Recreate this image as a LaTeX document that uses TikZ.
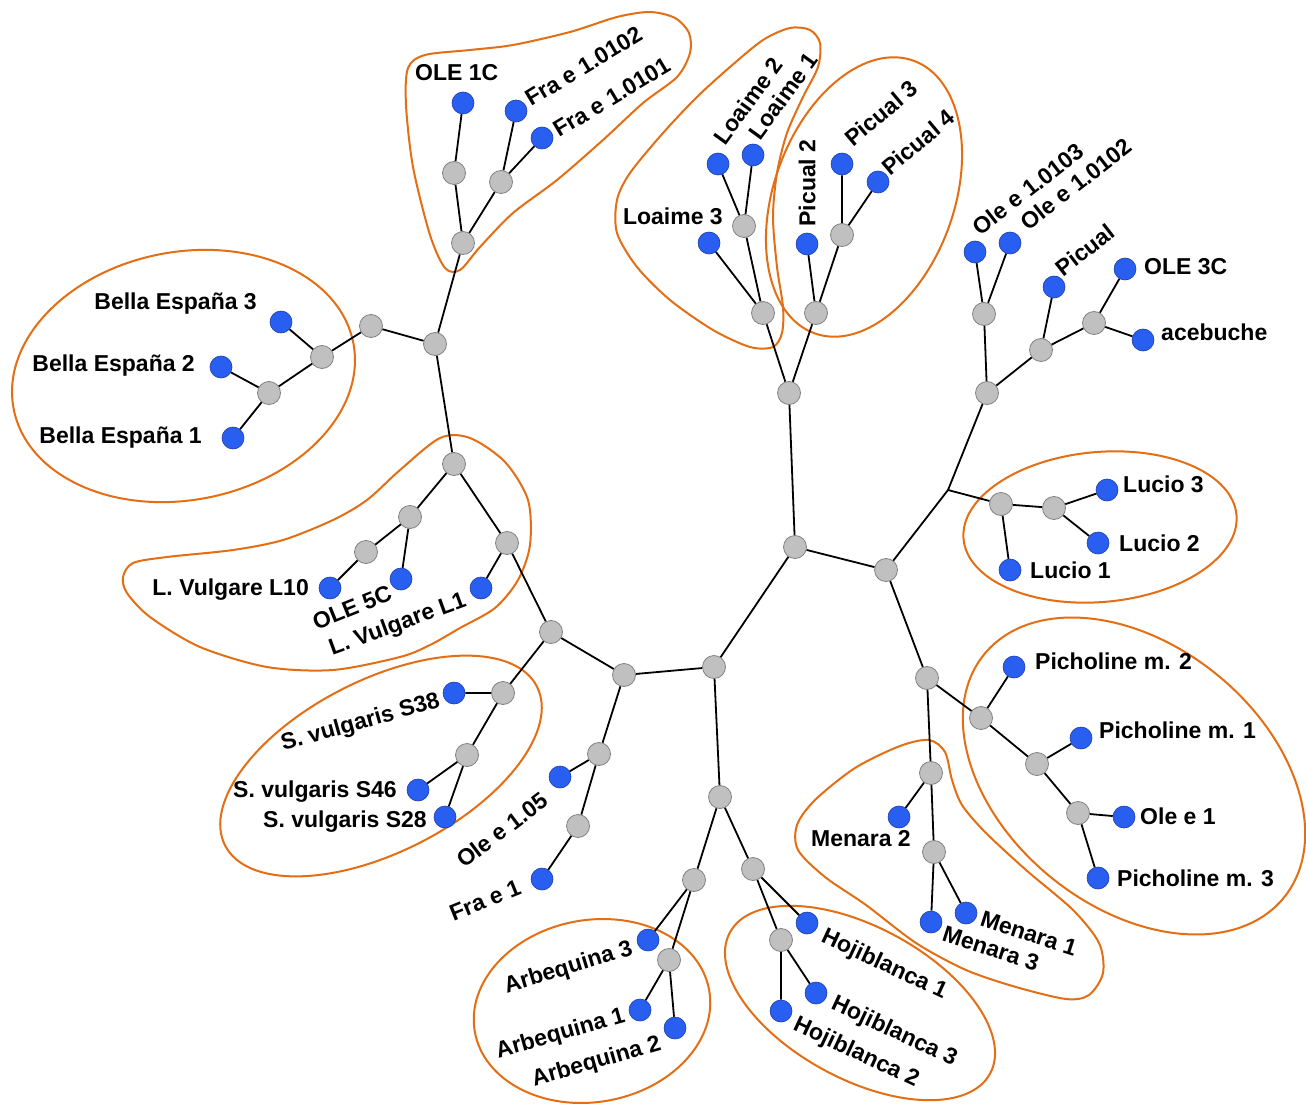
\documentclass[tikz,border=0pt]{standalone}
\usepackage{fontspec}
\setmainfont{Liberation Sans}
\definecolor{leafblue}{RGB}{40,95,240}
\definecolor{leafedge}{RGB}{30,60,170}
\definecolor{knotgray}{RGB}{192,192,192}
\definecolor{knotedge}{RGB}{130,130,130}
\definecolor{grouporange}{RGB}{228,110,20}
\begin{document}
\begin{tikzpicture}[x=1pt,y=-1pt,
 leaf/.style={circle,fill=leafblue,draw=leafedge,line width=0.6pt,minimum size=22pt,inner sep=0pt},
 knot/.style={circle,fill=knotgray,draw=knotedge,line width=0.8pt,minimum size=23pt,inner sep=0pt},
 lbl/.style={font=\fontsize{23}{27}\selectfont\bfseries,inner sep=0pt,text height=16.5pt,text depth=0pt},
 grp/.style={draw=grouporange,line width=2pt},
 branch/.style={draw=black,line width=1.8pt}]
\useasboundingbox[fill=white] (0,0) rectangle (1306,1107);

% ---------- group outlines ----------
\draw[grp,rotate around={11:(183.5,376)}] (183.5,376) ellipse [x radius=173, y radius=124];
\draw[grp,rotate around={5:(1100,527)}] (1100,527) ellipse [x radius=137, y radius=75];
\draw[grp,rotate around={27:(381,766)}] (381,766) ellipse [x radius=175, y radius=86];
\draw[grp,rotate around={70:(864,197)}] (864,197) ellipse [x radius=145, y radius=90];
\draw[grp,rotate around={10:(592,1011)}] (592,1011) ellipse [x radius=119, y radius=91];
\draw[grp,rotate around={-28.5:(860,1003)}] (860,1003) ellipse [x radius=148, y radius=76];
\draw[grp,rotate around={-39:(1134,776)}] (1134,776) ellipse [x radius=193, y radius=131];
\draw[grp] plot[smooth cycle] coordinates {(408,68) (425,55) (470,50) (513,45) (570,32) (617,17) (650,12) (675,18) (689,33) (690,53) (677,77) (643,103) (603,140) (557,180) (513,213) (480,247) (460,270) (445,268) (430,235) (413,167) (406,105)};
\draw[grp] plot[smooth cycle] coordinates {(617,200) (630,173) (663,133) (697,97) (730,67) (763,40) (790,28) (810,30) (820,43) (818,67) (803,97) (787,133) (777,173) (773,217) (777,267) (783,307) (782,333) (773,347) (750,347) (713,330) (670,300) (637,267) (617,233)};
\draw[grp] plot[smooth cycle] coordinates {(123,577) (133,563) (167,557) (233,550) (283,540) (333,520) (367,500) (400,470) (440,438) (470,438) (505,462) (528,500) (530,545) (518,580) (495,608) (460,628) (430,645) (400,657) (333,670) (267,667) (200,647) (150,617) (127,593)};
\draw[grp] plot[smooth cycle] coordinates {(929,740) (945,752) (952,780) (962,805) (985,832) (1026,870) (1073,910) (1099,943) (1103,973) (1089,995) (1066,999) (1016,987) (966,970) (916,943) (866,905) (825,877) (798,850) (797,825) (815,800) (855,768) (900,746)};

% ---------- internal nodes ----------
\node[knot] (g1) at (795,547) {};
\node[knot] (g2) at (714,667) {};
\node[knot] (g3) at (789,393) {};
\node[knot] (g4) at (886,570) {};
\node[knot] (g5) at (624,675) {};
\node[knot] (g6) at (720,797) {};
\node[knot] (g7) at (551,632) {};
\node[knot] (g8) at (599,754) {};
\node[knot] (g9) at (507,543) {};
\node[knot] (g10) at (503,693) {};
\node[knot] (g11) at (454,464) {};
\node[knot] (g12) at (435,344) {};
\node[knot] (g13) at (410,517) {};
\node[knot] (g14) at (366,552) {};
\node[knot] (g15) at (371,326) {};
\node[knot] (g16) at (463,243) {};
\node[knot] (g17) at (322,357) {};
\node[knot] (g18) at (269,393) {};
\node[knot] (g19) at (454,173) {};
\node[knot] (g20) at (501,182) {};
\node[knot] (g21) at (467,755) {};
\node[knot] (g22) at (578,826) {};
\node[knot] (g23) at (694,880) {};
\node[knot] (g24) at (753,869) {};
\node[knot] (g25) at (669,960) {};
\node[knot] (g26) at (781,940) {};
\node[knot] (g27) at (763,313) {};
\node[knot] (g28) at (816,313) {};
\node[knot] (g29) at (744,226) {};
\node[knot] (g30) at (842,235) {};
\coordinate (j1) at (948,490);
\node[knot] (g31) at (927,678) {};
\node[knot] (g32) at (987,393) {};
\node[knot] (g33) at (1001,504) {};
\node[knot] (g34) at (984,314) {};
\node[knot] (g35) at (1041,350) {};
\node[knot] (g36) at (1094,323) {};
\node[knot] (g37) at (1054,508) {};
\node[knot] (g38) at (981,718) {};
\node[knot] (g39) at (931,773) {};
\node[knot] (g40) at (1037,764) {};
\node[knot] (g41) at (1078,813) {};
\node[knot] (g42) at (934,852) {};

% ---------- leaves ----------
\node[leaf] (be3) at (281,322) {};
\node[leaf] (be2) at (221,367) {};
\node[leaf] (be1) at (233,438) {};
\node[leaf] (ole1c) at (463,103) {};
\node[leaf] (fra102) at (516,111) {};
\node[leaf] (fra101) at (542,138) {};
\node[leaf] (l10) at (330,588) {};
\node[leaf] (ole5c) at (401,579) {};
\node[leaf] (l1) at (481,588) {};
\node[leaf] (s38) at (454,693) {};
\node[leaf] (s46) at (418,790) {};
\node[leaf] (s28) at (445,817) {};
\node[leaf] (ole105) at (560,777) {};
\node[leaf] (frae1) at (542,879) {};
\node[leaf] (arb3) at (648,940) {};
\node[leaf] (arb1) at (640,1010) {};
\node[leaf] (arb2) at (675,1028) {};
\node[leaf] (hoj1) at (807,923) {};
\node[leaf] (hoj3) at (816,993) {};
\node[leaf] (hoj2) at (781,1011) {};
\node[leaf] (lo3) at (709,243) {};
\node[leaf] (lo2) at (718,164) {};
\node[leaf] (lo1) at (753,155) {};
\node[leaf] (pi2) at (807,244) {};
\node[leaf] (pi3) at (842,164) {};
\node[leaf] (pi4) at (878,182) {};
\node[leaf] (ole103) at (975,252) {};
\node[leaf] (ole102) at (1010,243) {};
\node[leaf] (picual) at (1054,287) {};
\node[leaf] (ole3c) at (1125,269) {};
\node[leaf] (acebuche) at (1143,340) {};
\node[leaf] (lu3) at (1107,490) {};
\node[leaf] (lu2) at (1098,543) {};
\node[leaf] (lu1) at (1010,570) {};
\node[leaf] (pm2) at (1014,667) {};
\node[leaf] (pm1) at (1081,738) {};
\node[leaf] (olee1) at (1124,817) {};
\node[leaf] (pm3) at (1098,878) {};
\node[leaf] (me2) at (899,817) {};
\node[leaf] (me3) at (931,922) {};
\node[leaf] (me1) at (966,913) {};

% ---------- branches ----------
\path[branch] (g1)--(g2) (g1)--(g3) (g1)--(g4)
 (g2)--(g5) (g2)--(g6)
 (g5)--(g7) (g5)--(g8)
 (g7)--(g9) (g7)--(g10)
 (g9)--(g11) (g9)--(l1)
 (g11)--(g12) (g11)--(g13)
 (g13)--(g14) (g13)--(ole5c) (g14)--(l10)
 (g12)--(g15) (g12)--(g16)
 (g15)--(g17) (g17)--(be3) (g17)--(g18) (g18)--(be2) (g18)--(be1)
 (g16)--(g19) (g16)--(g20) (g19)--(ole1c) (g20)--(fra102) (g20)--(fra101)
 (g10)--(s38) (g10)--(g21) (g21)--(s46) (g21)--(s28)
 (g8)--(ole105) (g8)--(g22) (g22)--(frae1)
 (g6)--(g23) (g6)--(g24)
 (g23)--(arb3) (g23)--(g25) (g25)--(arb1) (g25)--(arb2)
 (g24)--(hoj1) (g24)--(g26) (g26)--(hoj3) (g26)--(hoj2)
 (g3)--(g27) (g3)--(g28)
 (g27)--(lo3) (g27)--(g29) (g29)--(lo2) (g29)--(lo1)
 (g28)--(pi2) (g28)--(g30) (g30)--(pi3) (g30)--(pi4)
 (g4)--(j1) (g4)--(g31)
 (j1)--(g32) (j1)--(g33)
 (g32)--(g34) (g32)--(g35)
 (g34)--(ole103) (g34)--(ole102)
 (g35)--(picual) (g35)--(g36) (g36)--(ole3c) (g36)--(acebuche)
 (g33)--(g37) (g33)--(lu1) (g37)--(lu3) (g37)--(lu2)
 (g31)--(g38) (g31)--(g39)
 (g38)--(pm2) (g38)--(g40) (g40)--(pm1) (g40)--(g41) (g41)--(olee1) (g41)--(pm3)
 (g39)--(me2) (g39)--(g42) (g42)--(me3) (g42)--(me1);

% ---------- labels ----------
\node[lbl,anchor=base east] (tbe3) at (257,309) {Bella España 3};
\node[lbl,anchor=base east] (tbe2) at (195,371.5) {Bella España 2};
\node[lbl,anchor=base east] (tbe1) at (202,443) {Bella España 1};
\node[lbl,anchor=base east] (tl10) at (309,595) {L. Vulgare L10};
\node[lbl,anchor=base east] (ts46) at (397,797) {S. vulgaris S46};
\node[lbl,anchor=base east] (ts28) at (427,827) {S. vulgaris S28};
\node[lbl,anchor=base east] (tlo3) at (723,225) {Loaime 3};
\node[lbl,anchor=base east] (tme2) at (911,846) {Menara 2};
\node[lbl,anchor=base west] (tole1c) at (415,81) {OLE 1C};
\node[lbl,anchor=base west] (tole3c) at (1144,275) {OLE 3C};
\node[lbl,anchor=base west] (tace) at (1161,340) {acebuche};
\node[lbl,anchor=base west] (tlu3) at (1123,492) {Lucio 3};
\node[lbl,anchor=base west] (tlu2) at (1119,551) {Lucio 2};
\node[lbl,anchor=base west] (tlu1) at (1030,578) {Lucio 1};
\node[lbl,anchor=base west] (tpm2) at (1035,669) {Picholine m. 2};
\node[lbl,anchor=base west] (tpm1) at (1099,738) {Picholine m. 1};
\node[lbl,anchor=base west] (tolee1) at (1140,824) {Ole e 1};
\node[lbl,anchor=base west] (tpm3) at (1117,886) {Picholine m. 3};

\node[lbl,rotate=31] (tfra102) at (584,66) {Fra e 1.0102};
\node[lbl,rotate=31] (tfra101) at (612,97) {Fra e 1.0101};
\node[lbl,rotate=54] (tlo2) at (748,101) {Loaime 2};
\node[lbl,rotate=54] (tlo1) at (783,96) {Loaime 1};
\node[lbl,rotate=90] (tpi2) at (807,183) {Picual 2};
\node[lbl,rotate=40] (tpi3) at (881,113) {Picual 3};
\node[lbl,rotate=40] (tpi4) at (918,142) {Picual 4};
\node[lbl,rotate=38] (tole103) at (1028,189) {Ole e 1.0103};
\node[lbl,rotate=38] (tole102) at (1076,184) {Ole e 1.0102};
\node[lbl,rotate=38] (tpicual) at (1085,250) {Picual};
\node[lbl,rotate=22] (tole5c) at (352,607) {OLE 5C};
\node[lbl,rotate=20] (tl1) at (397,623) {L. Vulgare L1};
\node[lbl,rotate=15.6] (ts38) at (360,721) {S. vulgaris S38};
\node[lbl,rotate=37] (tole105) at (502,830) {Ole e 1.05};
\node[lbl,rotate=22] (tfrae1) at (485,900) {Fra e 1};
\node[lbl,rotate=17] (tarb3) at (568,966) {Arbequina 3};
\node[lbl,rotate=16] (tarb1) at (560,1032) {Arbequina 1};
\node[lbl,rotate=16] (tarb2) at (596,1060) {Arbequina 2};
\node[lbl,rotate=-25] (thoj1) at (885,963) {Hojiblanca 1};
\node[lbl,rotate=-25] (thoj3) at (895,1030) {Hojiblanca 3};
\node[lbl,rotate=-25] (thoj2) at (857,1051) {Hojiblanca 2};
\node[lbl,rotate=-18] (tme1) at (1029,933) {Menara 1};
\node[lbl,rotate=-18] (tme3) at (991,948) {Menara 3};
\end{tikzpicture}
\end{document}
